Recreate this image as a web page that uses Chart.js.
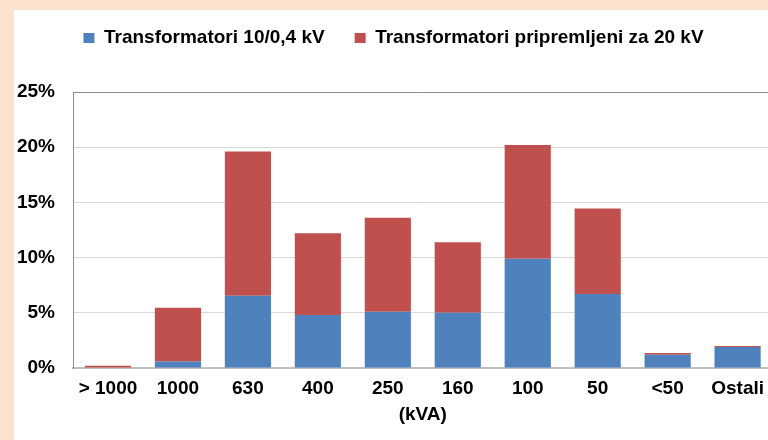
<!DOCTYPE html>
<html>
<head>
<meta charset="utf-8">
<script src="https://cdn.jsdelivr.net/npm/chart.js@4"></script>
<style>
    html, body { margin: 0; padding: 0; }
    body { width: 768px; height: 440px; background: #fde3cd; overflow: hidden; position: relative; }
    #panel { position: absolute; left: 14px; top: 10px; width: 754px; height: 430px; background: #fff; overflow: hidden; }
</style>
</head>
<body>
<div id="panel"><canvas id="trafoChart" width="759" height="430"></canvas></div>
<script>
// --- podaci ---
const kategorije = ['> 1000', '1000', '630', '400', '250', '160', '100', '50', '<50', 'Ostali'];
const trafo10 = [0, 0.6, 6.55, 4.8, 5.1, 5.0, 9.9, 6.7, 1.2, 1.9];
const trafo20 = [0.2, 4.85, 13.05, 7.4, 8.5, 6.4, 10.3, 7.75, 0.15, 0.1];
const yTicks = [0, 5, 10, 15, 20, 25];

const fontB = { family: 'Liberation Sans, Arial, sans-serif', weight: 'bold', size: 19 };

// razmak ispod legende
const legendaRazmak = {
    id: 'legendaRazmak',
    beforeInit: function(chart) {
        const fitOrig = chart.legend.fit;
        chart.legend.fit = function() {
            fitOrig.bind(chart.legend)();
            this.height += 34.5;
        };
    }
};

document.addEventListener('DOMContentLoaded', function() {
    const ctx = document.getElementById('trafoChart');
    new Chart(ctx, {
        type: 'bar',
        data: {
            labels: kategorije,
            datasets: [{
                label: 'Transformatori 10/0,4 kV',
                data: trafo10,
                backgroundColor: '#4f81bd',
                barPercentage: 0.66,
                categoryPercentage: 1
            }, {
                label: 'Transformatori pripremljeni za 20 kV',
                data: trafo20,
                backgroundColor: '#c0504d',
                barPercentage: 0.66,
                categoryPercentage: 1
            }]
        },
        plugins: [legendaRazmak],
        options: {
            responsive: false,
            animation: false,
            layout: { padding: { top: -11.5, left: 0, right: 0, bottom: 10 } },
            plugins: {
                legend: {
                    position: 'top',
                    labels: {
                        color: '#000',
                        font: fontB,
                        boxWidth: 11,
                        boxHeight: 10,
                        padding: 30
                    }
                },
                tooltip: { enabled: false }
            },
            scales: {
                x: {
                    stacked: true,
                    grid: { display: false, drawTicks: false },
                    border: { color: '#bfbfbf', width: 2 },
                    ticks: { color: '#000', font: fontB, padding: 9, maxRotation: 0 },
                    title: { display: true, text: '(kVA)', color: '#000', font: fontB, padding: { top: 0, bottom: 4 } },
                    afterFit: function(s) { s.height = 62; }
                },
                y: {
                    stacked: true,
                    min: 0,
                    max: 25,
                    afterBuildTicks: function(s) { s.ticks = yTicks.map(v => ({ value: v })); },
                    grid: {
                        color: c => (c.tick && c.tick.value === 25 ? '#8c8c8c' : '#d9d9d9'),
                        drawTicks: false
                    },
                    border: { color: '#8c8c8c' },
                    ticks: {
                        color: '#000',
                        font: fontB,
                        padding: 18,
                        callback: v => v + '%'
                    },
                    afterFit: function(s) { s.width = 59; }
                }
            }
        }
    });
});
</script>
</body>
</html>
